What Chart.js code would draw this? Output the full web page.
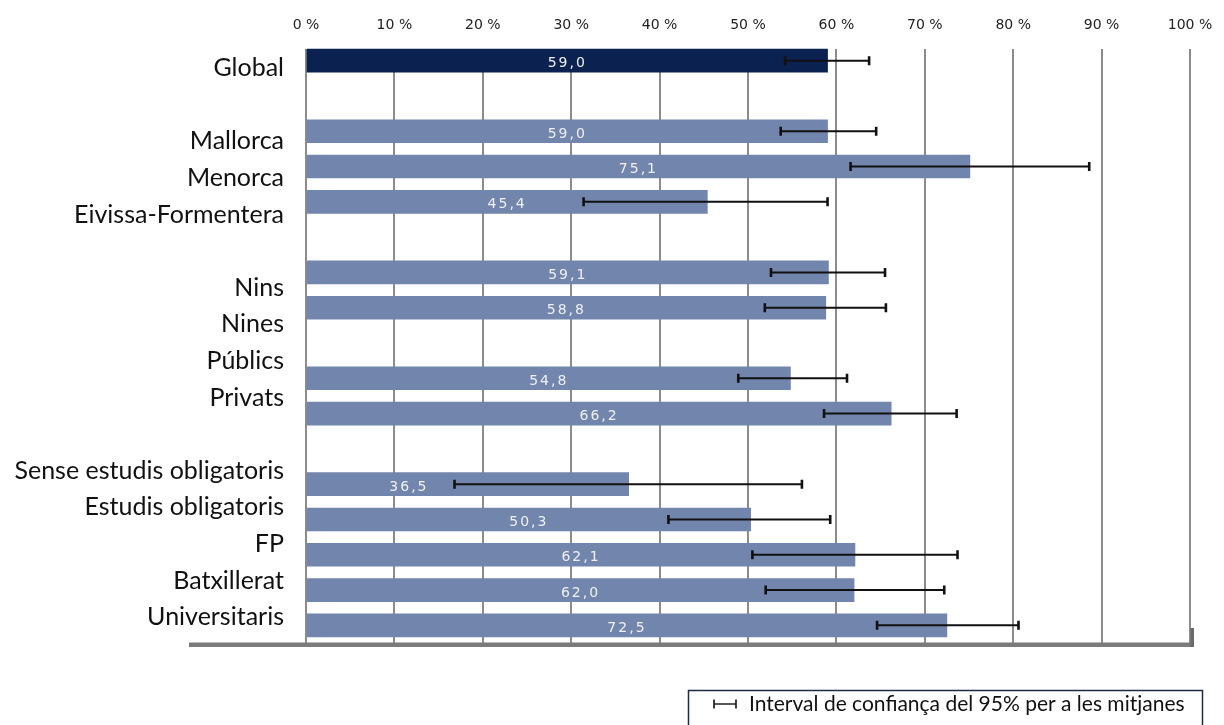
<!DOCTYPE html>
<html>
<head>
<meta charset="utf-8">
<script src="https://cdn.jsdelivr.net/npm/chart.js@4/dist/chart.umd.min.js"></script>
<style>
  html, body { margin: 0; padding: 0; background: #fff; }
</style>
</head>
<body>
<canvas id="c" width="1224" height="725"></canvas>
<script>
// one row per bar slot, blanks are the gaps between groups
var barRows = ['Global', '', 'Mallorca', 'Menorca', 'Eivissa-Formentera', '', 'Nins', 'Nines', '',
  'Públics', 'Privats', '', 'Sense estudis obligatoris', 'Estudis obligatoris', 'FP', 'Batxillerat', 'Universitaris']
var means  = [59.0, null, 59.0, 75.1, 45.4, null, 59.1, 58.8, null, 54.8, 66.2, null, 36.5, 50.3, 62.1, 62.0, 72.5]
var ciLow  = [54.2, null, 53.7, 61.6, 31.4, null, 52.6, 51.9, null, 48.9, 58.6, null, 16.8, 41.0, 50.5, 52.0, 64.6]
var ciHigh = [63.7, null, 64.5, 88.6, 59.0, null, 65.5, 65.6, null, 61.2, 73.6, null, 56.1, 59.3, 73.7, 72.2, 80.6]

// the text column of the original sits on its own grid of 16 lines
var axisLabels = ['Global', '', 'Mallorca', 'Menorca', 'Eivissa-Formentera', '', 'Nins', 'Nines', 'Públics',
  'Privats', '', 'Sense estudis obligatoris', 'Estudis obligatoris', 'FP', 'Batxillerat', 'Universitaris']
var pctTicks = [0, 10, 20, 30, 40, 50, 60, 70, 80, 90, 100]
var legendText = 'Interval de confiança del 95% per a les mitjanes'

var NAVY = '#0b2150'
var STEEL = '#7285ad'
var GRID = '#8c8c8c'
var LABEL_FONT = '"Gill Sans", "Gill Sans MT", Lato, sans-serif'

function fmt(v) {
  return v.toFixed(1).replace('.', ',')
}

function capLine(ctx, x1, x2, y, h, w, cw) {
  ctx.beginPath()
  ctx.lineWidth = w
  ctx.moveTo(x1, y); ctx.lineTo(x2, y)
  ctx.stroke()
  ctx.beginPath()
  ctx.lineWidth = cw
  ctx.moveTo(x1, y - h / 2); ctx.lineTo(x1, y + h / 2)
  ctx.moveTo(x2, y - h / 2); ctx.lineTo(x2, y + h / 2)
  ctx.stroke()
}

var extras = {
  id: 'extras',
  beforeDatasetsDraw: function(chart) {
    // grid in the original starts at the top of the first bar
    var area = chart.chartArea
    var ctx = chart.ctx
    ctx.save()
    ctx.fillStyle = '#fff'
    ctx.fillRect(area.left - 2, area.top, area.width + 4, 6)
    ctx.restore()
  },
  afterDatasetsDraw: function(chart) {
    var ctx = chart.ctx
    var area = chart.chartArea
    var xs = chart.scales.x
    var meta = chart.getDatasetMeta(0)

    // floor line and its right end
    ctx.save()
    ctx.fillStyle = '#7b7b7b'
    ctx.fillRect(area.left - 117, area.bottom - 0.5, area.right + 3 - (area.left - 117), 4.5)
    ctx.fillStyle = '#6a6a6a'
    ctx.fillRect(area.right + 0.5, area.bottom - 15, 3.5, 19)
    ctx.restore()

    // error bars
    ctx.save()
    ctx.strokeStyle = '#111'
    meta.data.forEach(function(bar, i) {
      if (ciLow[i] == null) return
      capLine(ctx, xs.getPixelForValue(ciLow[i]), xs.getPixelForValue(ciHigh[i]), bar.y, 9, 2, 2.6)
    })
    ctx.restore()

    // values inside the bars
    ctx.save()
    ctx.font = '14px "DejaVu Sans", sans-serif'
    ctx.letterSpacing = '2px'
    ctx.fillStyle = '#eef0f5'
    ctx.textAlign = 'center'
    ctx.textBaseline = 'middle'
    meta.data.forEach(function(bar, i) {
      if (means[i] == null) return
      var txt = fmt(means[i])
      var w = ctx.measureText(txt).width
      var cx = (bar.base + bar.x) / 2
      var lo = xs.getPixelForValue(ciLow[i])
      if (cx + w / 2 > lo - 6) cx = lo - 26 - w / 2
      ctx.fillText(txt, cx, bar.y + 3)
    })
    ctx.restore()
  },
  afterDraw: function(chart) {
    var ctx = chart.ctx
    ctx.save()
    ctx.strokeStyle = '#1d2b45'
    ctx.lineWidth = 1.5
    ctx.strokeRect(688.5, 690.5, 514, 40)
    ctx.strokeStyle = '#111'
    capLine(ctx, 714, 736, 704, 9, 1.4, 1.6)
    ctx.fillStyle = '#111'
    ctx.font = '21px ' + LABEL_FONT
    ctx.textBaseline = 'middle'
    ctx.fillText(legendText, 749, 704)
    ctx.restore()
  }
}

new Chart(document.getElementById('c'), {
  type: 'bar',
  data: {
    labels: barRows,
    datasets: [{
      data: means,
      yAxisID: 'y',
      backgroundColor: means.map(function(v, i) { return i === 0 ? NAVY : STEEL }),
      borderWidth: 0,
      barThickness: 23
    }]
  },
  options: {
    responsive: false,
    animation: false,
    indexAxis: 'y',
    layout: { padding: { left: 0, right: 34, top: 0, bottom: 82 } },
    plugins: {
      legend: { display: false },
      tooltip: { enabled: false }
    },
    scales: {
      x: {
        position: 'top',
        min: 0,
        max: 100,
        afterBuildTicks: function(s) { s.ticks = pctTicks.map(function(v) { return { value: v } }) },
        afterFit: function(s) { s.height = 43 },
        ticks: {
          callback: function(v) { return v + ' %' },
          font: { family: '"DejaVu Sans", sans-serif', size: 14 },
          color: '#222',
          padding: 9,
          maxRotation: 0
        },
        grid: { color: GRID, lineWidth: 2, drawTicks: false },
        border: { display: false }
      },
      y: {
        type: 'category',
        display: false,
        offset: true
      },
      y2: {
        type: 'linear',
        position: 'left',
        reverse: true,
        offset: false,
        min: -0.683,
        max: 15.702,
        afterBuildTicks: function(s) { s.ticks = axisLabels.map(function(t, i) { return { value: i } }) },
        afterFit: function(s) { s.width = 306 },
        ticks: {
          autoSkip: false,
          callback: function(v) { return axisLabels[v] },
          font: { family: LABEL_FONT, size: 25 },
          color: '#111',
          padding: 22
        },
        grid: { display: false, drawTicks: false },
        border: { display: false }
      }
    }
  },
  plugins: [extras]
})
</script>
</body>
</html>
